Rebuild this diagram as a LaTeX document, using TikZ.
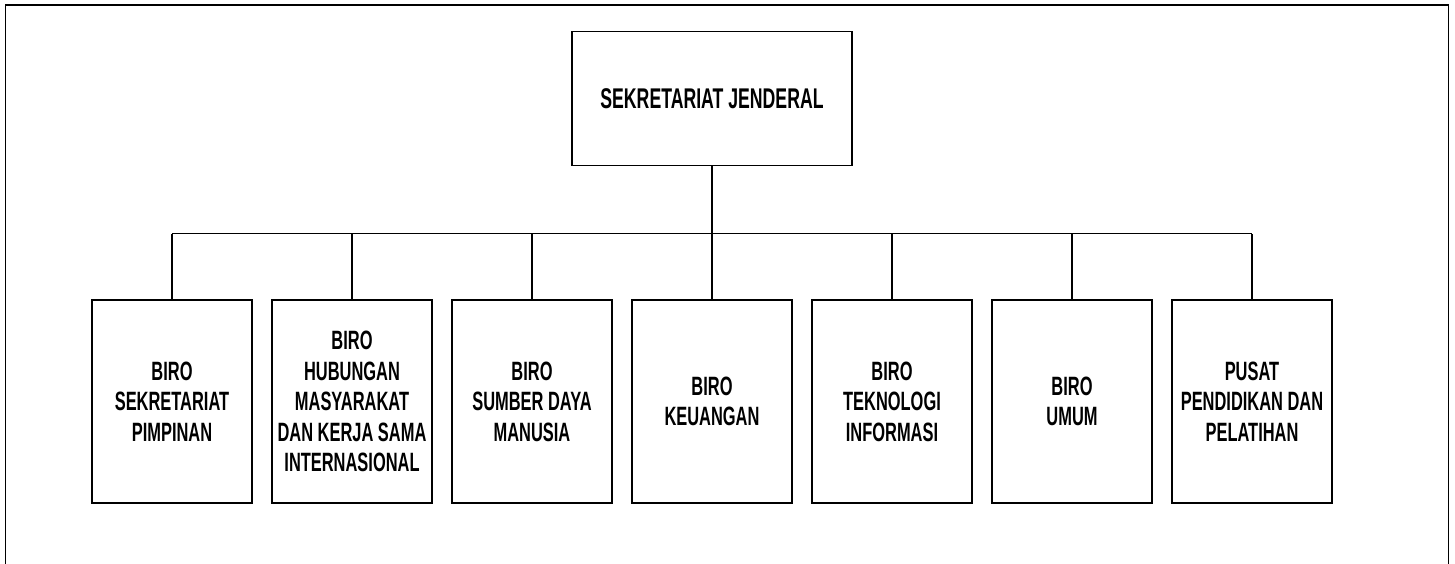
\documentclass[tikz,border=0pt]{standalone}
\usepackage{fontspec}
\newfontfamily\orgfont[FakeStretch=0.62]{Liberation Sans}
\begin{document}
\begin{tikzpicture}[x=1pt,y=-1pt,
  line width=1.2pt,
  orgbox/.style={draw=black, line width=1.2pt, rectangle, minimum width=160pt, minimum height=203pt,
    inner sep=0pt, align=center, font=\orgfont\bfseries\fontsize{26.5}{30.5}\selectfont},
  topbox/.style={draw=black, line width=1.2pt, rectangle, minimum width=280pt, minimum height=134pt,
    inner sep=0pt, align=center, font=\orgfont\bfseries\fontsize{28.5}{31}\selectfont},
  link/.style={draw=black, line width=1.2pt}]
\useasboundingbox (0,0) rectangle (1455,564);
% outer frame (bottom edge lies outside the picture)
\draw[line width=1.4pt] (5.5,564) -- (5.5,5) -- (1448.5,5) -- (1448.5,564);

\node[topbox] (top) at (712,98.5) {SEKRETARIAT JENDERAL};

\node[orgbox] (b1) at (172,401.5) {BIRO\\SEKRETARIAT\\PIMPINAN};
\node[orgbox] (b2) at (352,401.5) {BIRO\\HUBUNGAN\\MASYARAKAT\\DAN KERJA SAMA\\INTERNASIONAL};
\node[orgbox] (b3) at (532,401.5) {BIRO\\SUMBER DAYA\\MANUSIA};
\node[orgbox] (b4) at (712,401.5) {BIRO\\KEUANGAN};
\node[orgbox] (b5) at (892,401.5) {BIRO\\TEKNOLOGI\\INFORMASI};
\node[orgbox] (b6) at (1072,401.5) {BIRO\\UMUM};
\node[orgbox] (b7) at (1252,401.5) {PUSAT\\PENDIDIKAN DAN\\PELATIHAN};

\coordinate (bus) at (712,233.5);
\draw[link] (top.south) -- (bus);
\draw[link] (b1.north |- bus) -- (b7.north |- bus);
\foreach \b in {b1,b2,b3,b4,b5,b6,b7}{
  \draw[link] (\b.north) -- (\b.north |- bus);
}
\end{tikzpicture}
\end{document}
